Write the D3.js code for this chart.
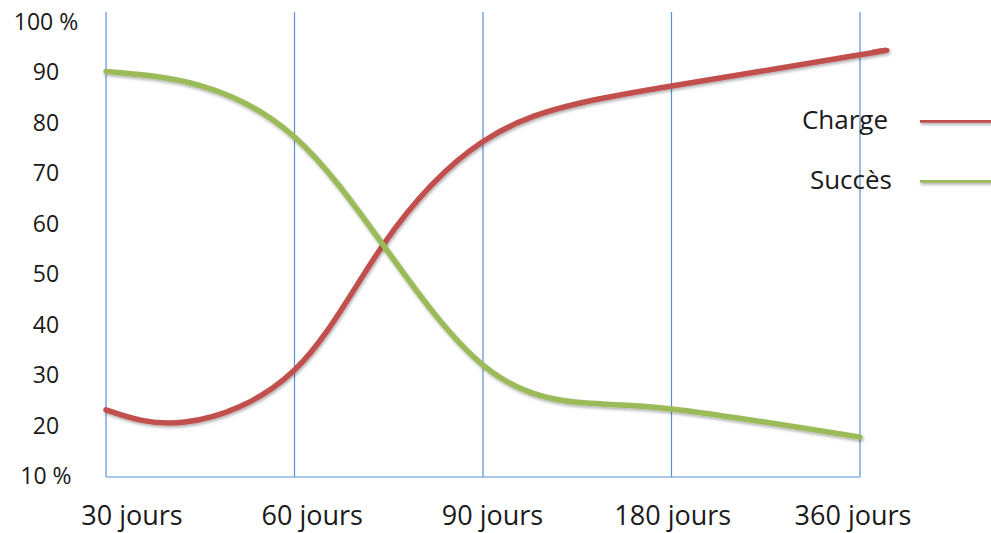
<!DOCTYPE html>
<html>
<head>
<meta charset="utf-8">
<script src="https://cdn.jsdelivr.net/npm/d3@7"></script>
<style>
  body { margin: 0; background: #fff; }
  text { font-family: "Open Sans", sans-serif; fill: #1a1a1a; }
</style>
</head>
<body>
<div id="chart"></div>
<script>
// categories on the x axis
var categories = ["30 jours", "60 jours", "90 jours", "180 jours", "360 jours"];
// y ticks
var yTicks = [10, 20, 30, 40, 50, 60, 70, 80, 90, 100];
var yTickLabels = ["10 %", "20", "30", "40", "50", "60", "70", "80", "90", "100 %"];

// curves: position in category units, value in %
var chargePos = [0, 0.42, 1, 1.47, 2, 2.5, 3, 4, 4.07];
var chargeVal = [23.1, 20.7, 31, 55.8, 76.3, 83.8, 87.3, 93.5, 94];
var succesPos = [0, 0.5, 1, 1.47, 2, 2.5, 3, 4];
var succesVal = [90.2, 87.4, 77.2, 55.8, 32, 24.6, 23.3, 17.7];

var seriesNames = ["Charge", "Succès"];
var seriesColors = ["#c0504d", "#9bbb59"];

var w = 991, h = 533;
var mLeft = 106, mRight = 860, mTop = 22, mBottom = 476;

var svg = d3.select("#chart").append("svg")
    .attr("width", w)
    .attr("height", h);

var defs = svg.append("defs");
var f = defs.append("filter").attr("id", "shadow")
    .attr("filterUnits", "userSpaceOnUse")
    .attr("x", 0).attr("y", 0).attr("width", w).attr("height", h);
f.append("feDropShadow").attr("dx", 1).attr("dy", 2).attr("stdDeviation", 1.5)
    .attr("flood-color", "#000").attr("flood-opacity", 0.3);

var x = d3.scaleLinear().domain([0, categories.length - 1]).range([mLeft, mRight]);
var y = d3.scaleLinear().domain([10, 100]).range([mBottom, mTop]);
// tick labels sit a little off the grid lines in the original
var xLab = d3.scaleLinear().domain([0, categories.length - 1]).range([132, 853]);

// vertical grid lines
svg.append("g").selectAll("line")
    .data(categories)
    .enter().append("line")
    .attr("x1", function(d, i) { return x(i); })
    .attr("x2", function(d, i) { return x(i); })
    .attr("y1", 12)
    .attr("y2", mBottom + 1)
    .attr("stroke", "#5b8fd4")
    .attr("stroke-width", 1.2);

// bottom axis line
svg.append("line")
    .attr("x1", x(0)).attr("x2", x(categories.length - 1))
    .attr("y1", mBottom + 1).attr("y2", mBottom + 1)
    .attr("stroke", "#5b8fd4")
    .attr("stroke-width", 1.2);

// y labels
svg.append("g").selectAll("text")
    .data(yTicks)
    .enter().append("text")
    .attr("x", 46)
    .attr("y", function(d) { return y(d) + 8; })
    .attr("text-anchor", "middle")
    .style("font-size", "23px")
    .text(function(d, i) { return yTickLabels[i]; });

// x labels
svg.append("g").selectAll("text")
    .data(categories)
    .enter().append("text")
    .attr("x", function(d, i) { return xLab(i); })
    .attr("y", 525)
    .attr("text-anchor", "middle")
    .style("font-size", "27px")
    .text(function(d) { return d; });

var line = d3.line()
    .x(function(d) { return x(d[0]); })
    .y(function(d) { return y(d[1]); })
    .curve(d3.curveNatural);

var series = [d3.zip(chargePos, chargeVal), d3.zip(succesPos, succesVal)];

svg.append("g").selectAll("path")
    .data(series)
    .enter().append("path")
    .attr("d", line)
    .attr("fill", "none")
    .attr("stroke", function(d, i) { return seriesColors[i]; })
    .attr("stroke-width", 5.5)
    .attr("stroke-linecap", "round")
    .attr("filter", "url(#shadow)");

// legend
var lg = svg.append("g").selectAll("g")
    .data(seriesNames)
    .enter().append("g")
    .attr("transform", function(d, i) { return "translate(0," + (120 + i * 60) + ")"; });
lg.append("text")
    .attr("x", 888)
    .attr("y", 9)
    .attr("text-anchor", "end")
    .attr("dx", function(d, i) { return i * 4; })
    .style("font-size", "26px")
    .text(function(d) { return d; });
lg.append("line")
    .attr("x1", 920).attr("x2", 995)
    .attr("y1", 0).attr("y2", 0)
    .attr("stroke", function(d, i) { return seriesColors[i]; })
    .attr("stroke-width", 5.5)
    .attr("filter", "url(#shadow)");
</script>
</body>
</html>
